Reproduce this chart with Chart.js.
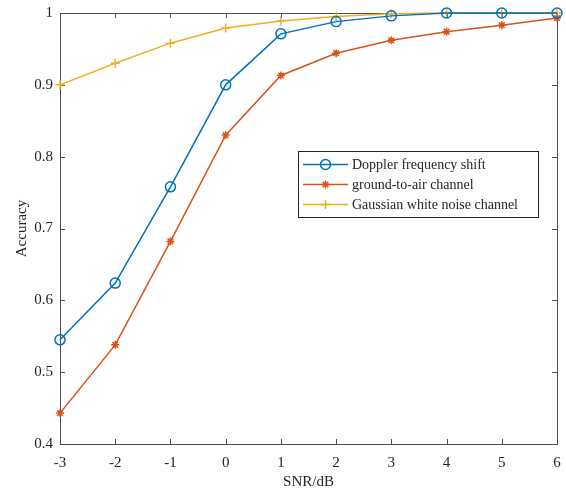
<!DOCTYPE html>
<html>
<head>
<meta charset="utf-8">
<script src="https://cdn.jsdelivr.net/npm/chart.js@4.4.1/dist/chart.umd.min.js"></script>
<style>
  html, body { margin: 0; padding: 0; background: #fff; }
  #wrap { width: 566px; height: 491px; }
</style>
</head>
<body>
<div id="wrap"><canvas id="acc"></canvas></div>
<script>
const snr = [-3, -2, -1, 0, 1, 2, 3, 4, 5, 6];
const dopplerAcc = [0.545, 0.624, 0.758, 0.900, 0.971, 0.988, 0.996, 1.000, 1.000, 1.000];
const groundAirAcc = [0.443, 0.538, 0.682, 0.830, 0.913, 0.944, 0.962, 0.974, 0.983, 0.993];
const gaussAcc = [0.900, 0.930, 0.958, 0.979, 0.989, 0.995, 0.999, 1.000, 1.000, 1.000];
const seriesNames = ['Doppler frequency shift', 'ground-to-air channel', 'Gaussian white noise channel'];

const FONT = "'Liberation Serif', 'Times New Roman', serif";
const AXIS_COLOR = '#4d4d4d';
const TEXT_COLOR = '#262626';

const toPoints = vals => snr.map((x, i) => ({ x: x, y: vals[i] }));

function series(label, vals, color, style, radius) {
  return {
    label: label,
    data: toPoints(vals),
    borderColor: color,
    backgroundColor: color,
    borderWidth: 1.5,
    pointStyle: style,
    pointRadius: radius,
    pointBorderWidth: 1.5,
    pointBackgroundColor: style === 'circle' ? 'rgba(0,0,0,0)' : color,
    pointBorderColor: color,
    tension: 0,
    clip: false
  };
}

// box around the plot with inward ticks on all four sides
const axesBox = {
  id: 'axesBox',
  beforeDatasetsDraw(chart) {
    const { ctx, chartArea: a, scales } = chart;
    const len = 5;
    ctx.save();
    ctx.strokeStyle = AXIS_COLOR;
    ctx.lineWidth = 1;
    ctx.strokeRect(a.left + 0.5, a.top + 0.5, a.right - a.left, a.bottom - a.top);
    ctx.beginPath();
    scales.x.ticks.forEach(t => {
      const px = Math.round(scales.x.getPixelForValue(t.value)) + 0.5;
      ctx.moveTo(px, a.bottom); ctx.lineTo(px, a.bottom - len);
      ctx.moveTo(px, a.top); ctx.lineTo(px, a.top + len);
    });
    scales.y.ticks.forEach(t => {
      const py = Math.round(scales.y.getPixelForValue(t.value)) + 0.5;
      ctx.moveTo(a.left, py); ctx.lineTo(a.left + len, py);
      ctx.moveTo(a.right, py); ctx.lineTo(a.right - len, py);
    });
    ctx.stroke();
    ctx.restore();
  },
  afterDraw(chart) {
    // legend box inside the plot area
    const { ctx } = chart;
    const x0 = 298, y0 = 151, w = 240, h = 66;
    ctx.save();
    ctx.fillStyle = '#fff';
    ctx.fillRect(x0, y0, w, h);
    ctx.strokeStyle = '#262626';
    ctx.lineWidth = 1;
    ctx.strokeRect(x0 + 0.5, y0 + 0.5, w, h);
    ctx.font = '14px ' + FONT;
    ctx.textBaseline = 'middle';
    chart.data.datasets.forEach((ds, i) => {
      const y = y0 + 13.5 + i * 20;
      ctx.strokeStyle = ds.borderColor;
      ctx.lineWidth = 1.5;
      ctx.beginPath();
      ctx.moveTo(x0 + 5, y); ctx.lineTo(x0 + 50, y);
      ctx.stroke();
      ctx.fillStyle = ds.pointBackgroundColor;
      Chart.helpers.drawPoint(ctx, { pointStyle: ds.pointStyle, radius: ds.pointRadius, borderWidth: 1.5, rotation: 0 }, x0 + 27.5, y);
      ctx.fillStyle = TEXT_COLOR;
      ctx.fillText(ds.label, x0 + 54, y + 1);
    });
    ctx.restore();
  }
};

new Chart(document.getElementById('acc'), {
  type: 'line',
  data: {
    datasets: [
      series(seriesNames[0], dopplerAcc, '#0072BD', 'circle', 5),
      series(seriesNames[1], groundAirAcc, '#D95319', 'star', 4),
      series(seriesNames[2], gaussAcc, '#EDB120', 'cross', 4.5)
    ]
  },
  options: {
    responsive: true,
    maintainAspectRatio: false,
    animation: false,
    layout: { padding: { top: 13, right: 9, left: 0, bottom: 0 } },
    plugins: { legend: { display: false }, tooltip: { enabled: false } },
    scales: {
      x: {
        type: 'linear',
        min: -3,
        max: 6,
        afterFit(scale) {
          scale.height = 47;
          scale.paddingLeft = 0;
          scale.paddingRight = 0;
        },
        grid: { display: false, drawTicks: false },
        border: { display: false },
        ticks: {
          stepSize: 1,
          padding: 10,
          color: TEXT_COLOR,
          font: { family: FONT, size: 15 },
          maxRotation: 0
        },
        title: {
          display: true,
          text: 'SNR/dB',
          color: TEXT_COLOR,
          font: { family: FONT, size: 15 },
          padding: { top: 0, bottom: 0 }
        }
      },
      y: {
        min: 0.4,
        max: 1,
        afterFit(scale) {
          scale.width = 60;
          scale.paddingTop = 0;
          scale.paddingBottom = 0;
        },
        grid: { display: false, drawTicks: false },
        border: { display: false },
        ticks: {
          stepSize: 0.1,
          padding: 7,
          color: TEXT_COLOR,
          font: { family: FONT, size: 15 },
          callback: v => String(parseFloat(v.toFixed(1)))
        },
        title: {
          display: true,
          text: 'Accuracy',
          color: TEXT_COLOR,
          font: { family: FONT, size: 15 },
          padding: { top: 13, bottom: 0 }
        }
      }
    }
  },
  plugins: [axesBox]
});
</script>
</body>
</html>
